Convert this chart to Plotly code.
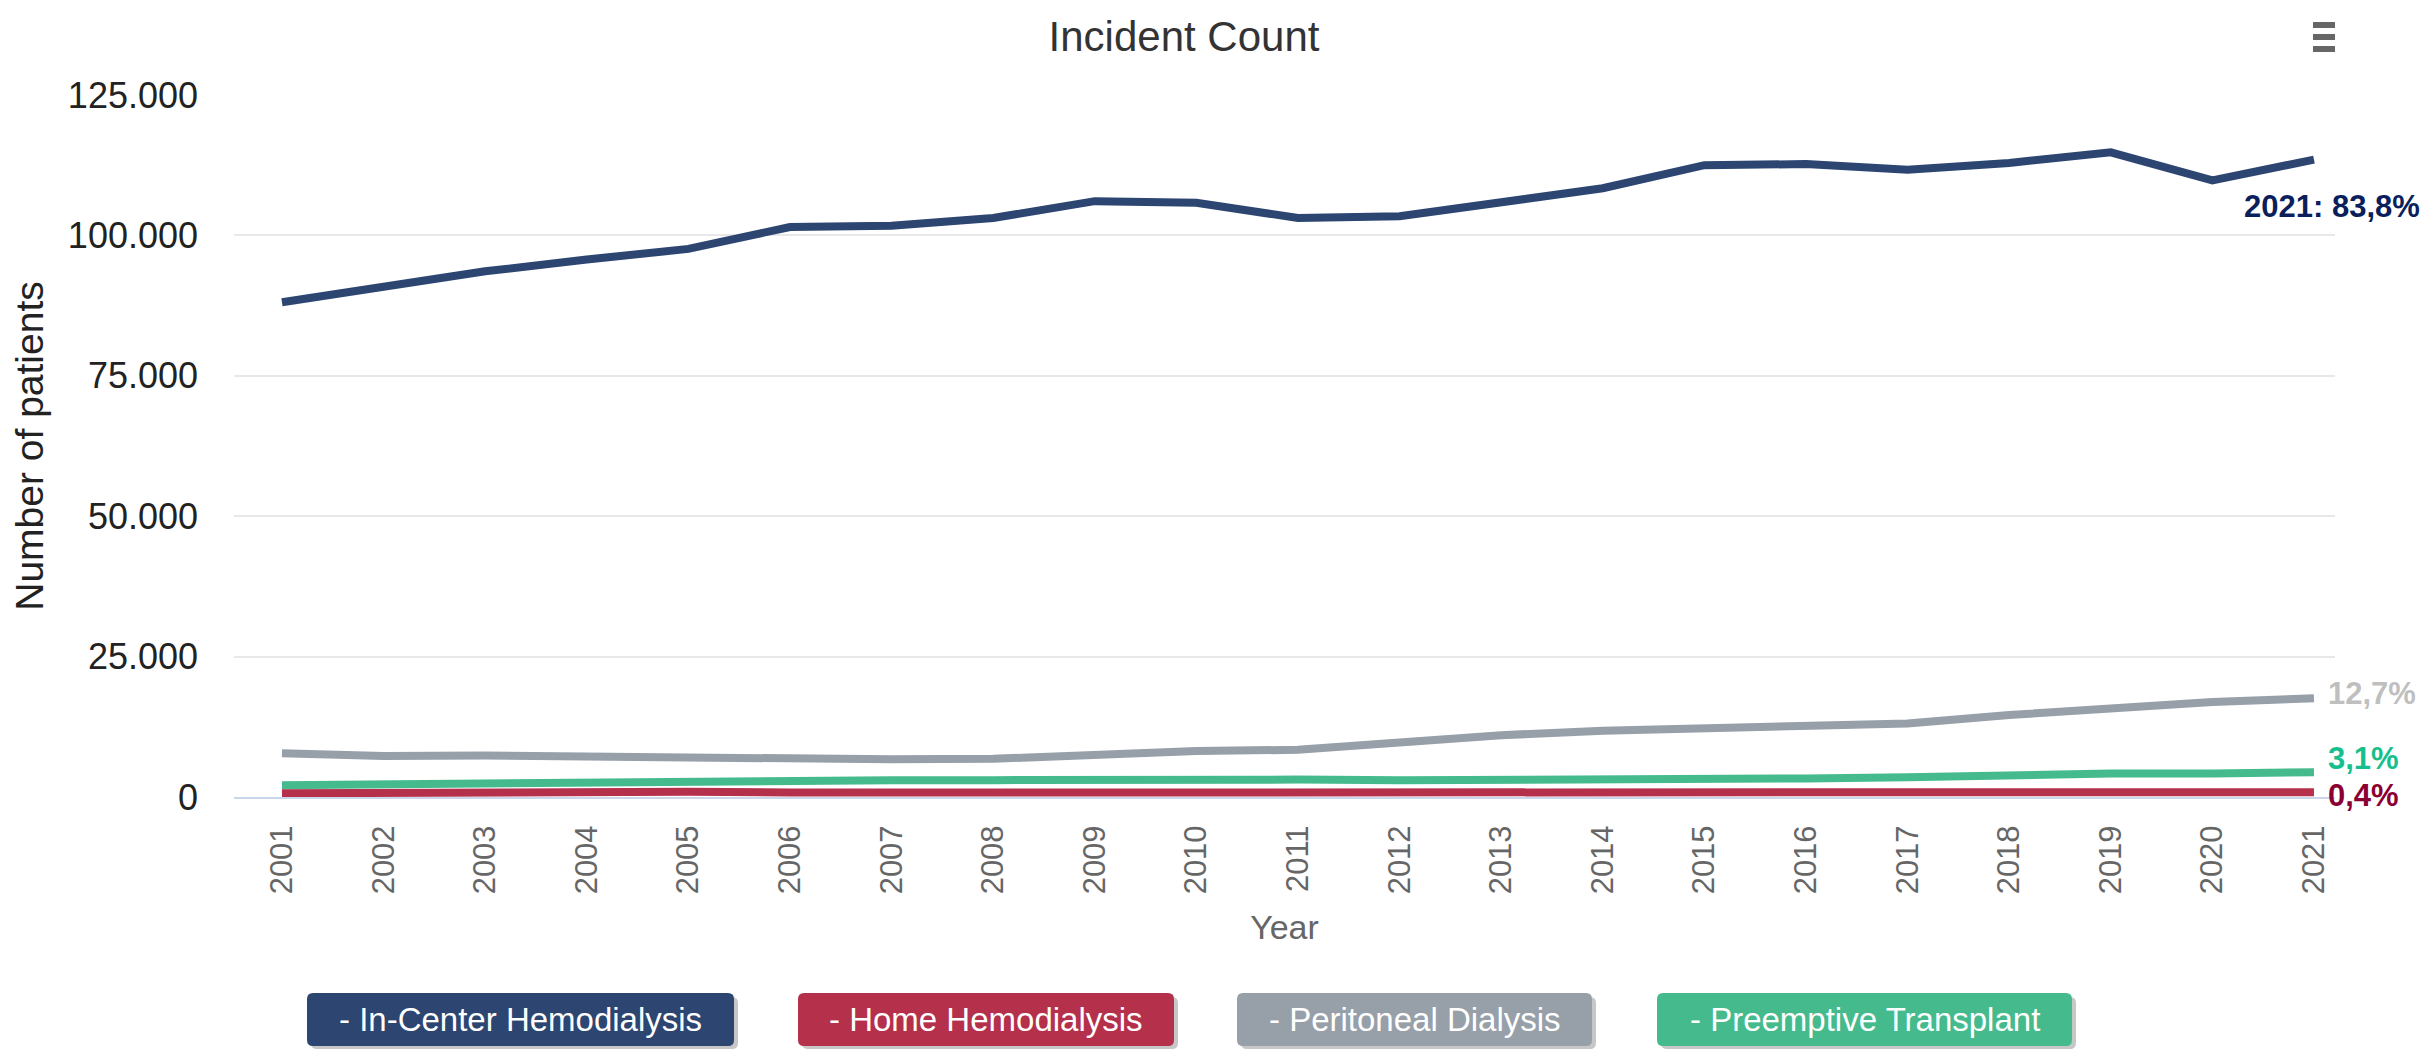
import plotly.graph_objects as go

# data
years = list(range(2001, 2022))
series_names = ["In-Center Hemodialysis", "Home Hemodialysis", "Peritoneal Dialysis", "Preemptive Transplant"]
series_colors = ["#2c4571", "#b5304b", "#979fa9", "#45bb8d"]
in_center = [88100, 90900, 93600, 95700, 97600, 101500, 101700, 103100, 106100, 105800,
             103100, 103400, 106000, 108400, 112500, 112700, 111700, 112900, 114800, 109800, 113500]
home_hd = [650, 800, 950, 1050, 950, 800, 800, 800, 800, 800,
           750, 750, 750, 750, 750, 750, 900, 900, 800, 800, 850]
peritoneal = [7800, 7300, 7400, 7200, 7100, 6900, 6700, 6800, 7500, 8200,
              8400, 9600, 11000, 11800, 12300, 12700, 13100, 14600, 15800, 16900, 17600]
preemptive = [2100, 2300, 2400, 2700, 2800, 3000, 3000, 3000, 3100, 3100,
              3100, 3000, 3000, 3100, 3000, 3300, 3500, 3900, 4200, 4200, 4400]
end_labels = ["2021: 83,8%", "0,4%", "12,7%", "3,1%"]
end_label_colors = ["#0b1f5c", "#8b0033", "#bfbfbf", "#17bf8f"]
y_ticks = [0, 25000, 50000, 75000, 100000, 125000]

series_values = [in_center, home_hd, peritoneal, preemptive]

# page is 2435 x 1050; the html body adds an 8px margin, so the figure is 8px smaller
OFF = 8
W, H = 2435 - OFF, 1050 - OFF
# plot area in page pixels
L, R, T, B = 234, 2335, 95, 797


def px_x(p):
    return (p - L) / (R - L)


def px_y(p):
    return (B - p) / (B - T)


def rounded_path(x0, y0, x1, y1, r):
    pts = [("M", x0 + r, y0), ("L", x1 - r, y0), ("Q", x1, y0, x1, y0 + r), ("L", x1, y1 - r),
           ("Q", x1, y1, x1 - r, y1), ("L", x0 + r, y1), ("Q", x0, y1, x0, y1 - r), ("L", x0, y0 + r),
           ("Q", x0, y0, x0 + r, y0)]
    out = ""
    for p in pts:
        if p[0] == "Q":
            out += f"Q {px_x(p[1])},{px_y(p[2])} {px_x(p[3])},{px_y(p[4])} "
        else:
            out += f"{p[0]} {px_x(p[1])},{px_y(p[2])} "
    return out + "Z"


fig = go.Figure()
# draw order: PD, PT, HHD, in-center on top
for i in [2, 3, 1, 0]:
    fig.add_trace(go.Scatter(x=years, y=series_values[i], mode="lines", name=series_names[i],
                             line=dict(color=series_colors[i], width=8), hoverinfo="x+y+name"))

# end-of-line percentage labels
label_shift = [(-72, -47), (12, -3), (12, 5), (12, 14)]
for i in range(4):
    fig.add_annotation(x=years[-1], y=series_values[i][-1], text=f"<b>{end_labels[i]}</b>",
                       showarrow=False, xanchor="left", yanchor="middle",
                       xshift=label_shift[i][0], yshift=label_shift[i][1],
                       font=dict(family="Liberation Sans", size=31, color=end_label_colors[i]))

# legend drawn as buttons
button_x = [(307, 734), (798, 1174), (1237, 1592), (1657, 2072)]
by0, by1 = 993, 1046
shapes = []
for i, (x0, x1) in enumerate(button_x):
    shapes.append(dict(type="path", xref="paper", yref="paper", layer="above",
                       path=rounded_path(x0 + 4, by0 + 4, x1 + 4, by1 + 3, 6),
                       fillcolor="rgba(0,0,0,0.22)", line=dict(width=0)))
    shapes.append(dict(type="path", xref="paper", yref="paper", layer="above",
                       path=rounded_path(x0, by0, x1, by1, 6),
                       fillcolor=series_colors[i], line=dict(width=0)))
    fig.add_annotation(xref="paper", yref="paper", x=px_x((x0 + x1) / 2), y=px_y((by0 + by1) / 2),
                       text="- " + series_names[i], showarrow=False, xanchor="center", yanchor="middle",
                       font=dict(family="Liberation Sans, Arial", size=33, color="white"))

# hamburger menu icon
for yy in [25, 37, 49]:
    shapes.append(dict(type="rect", xref="paper", yref="paper",
                       x0=px_x(2313), x1=px_x(2335), y0=px_y(yy - 3), y1=px_y(yy + 3),
                       fillcolor="#666666", line=dict(width=0)))

fig.update_layout(
    width=W, height=H,
    margin=dict(l=L - OFF, r=W - (R - OFF), t=T - OFF, b=H - (B - OFF), autoexpand=False),
    paper_bgcolor="white", plot_bgcolor="white",
    separators=",.",
    showlegend=False,
    shapes=shapes,
    font=dict(family="Liberation Sans, Arial", color="#333333"),
    title=dict(text="Incident Count", x=(1184 - OFF) / W, xref="container", xanchor="center",
               y=1 - (36 - OFF) / H, yref="container", yanchor="middle",
               font=dict(size=42, color="#333333")),
    xaxis=dict(range=[2000.528, 2021.207], tickmode="array", tickvals=years,
               ticktext=[str(y) for y in years], tickangle=-90,
               tickfont=dict(size=31, color="#666666"), showgrid=False, zeroline=False,
               showline=True, linecolor="#ccd6eb", linewidth=2, layer="below traces",
               ticks="", ticklabelstandoff=14,
               title=dict(text="Year", font=dict(size=34, color="#666666"), standoff=22)),
    yaxis=dict(range=[0, 125000], tickmode="array", tickvals=y_ticks, tickformat=",d",
               tickfont=dict(size=36, color="#222222"), showgrid=True, gridcolor="#e8e8e8",
               gridwidth=2, zeroline=False, showline=False, ticks="", ticklabelstandoff=35,
               title=dict(text="Number of patients", font=dict(size=39, color="#222222"), standoff=18)),
)

fig.write_html("out.html", config={"displayModeBar": False})
